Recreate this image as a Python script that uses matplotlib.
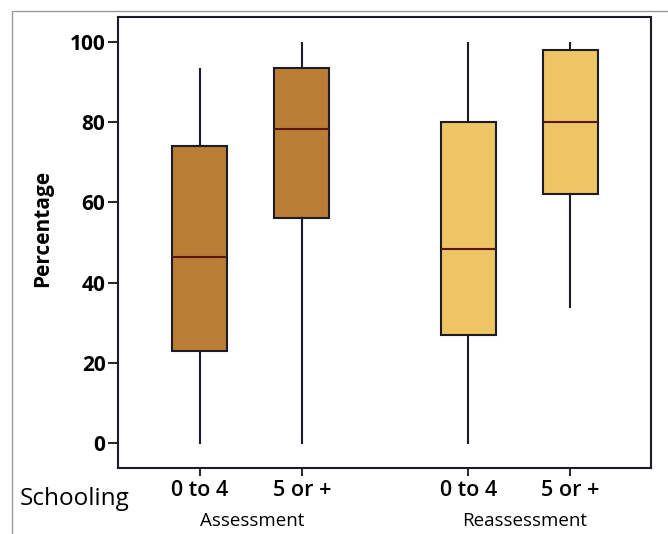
import matplotlib.pyplot as plt
from matplotlib.patches import Rectangle

# values (percent)
groups = ["0 to 4", "5 or +", "0 to 4", "5 or +"]
phases = ["Assessment", "Reassessment"]
whislo = [0, 0, 0, 34]
q1 = [23, 56, 27, 62]
med = [46.5, 78.3, 48.5, 80]
q3 = [74, 93.5, 80, 98]
whishi = [93.3, 99.7, 99.7, 99.7]
colors = ["#B97E34", "#B97E34", "#EDC562", "#EDC562"]
positions = [1, 2, 3.63, 4.63]

plt.rcParams['font.family'] = ['Open Sans', 'DejaVu Sans']

fig = plt.figure(figsize=(6.68, 5.34), dpi=100)
ax = fig.add_axes([118/668, 1-468/534, (651-118)/668, (468-17)/534])

stats = []
for i in range(len(groups)):
    stats.append(dict(whislo=whislo[i], q1=q1[i], med=med[i], q3=q3[i], whishi=whishi[i], label=groups[i]))

bp = ax.bxp(stats, positions=positions, widths=0.54, patch_artist=True, showfliers=False,
            showcaps=False,
            boxprops=dict(edgecolor="#1c1c28", linewidth=1.5),
            whiskerprops=dict(color="#1c1c28", linewidth=1.5),
            medianprops=dict(color="#5a1518", linewidth=1.5))
for patch, c in zip(bp['boxes'], colors):
    patch.set_facecolor(c)

ax.set_xlim(0.2, 5.42)
ax.set_ylim(-6.2, 106.2)
ax.set_yticks([0, 20, 40, 60, 80, 100])
ax.tick_params(axis='y', labelsize=15, length=7, width=1.2, pad=2)
ax.tick_params(axis='x', labelsize=15.5, length=6, width=1.2, pad=3)
for lab in ax.get_yticklabels():
    lab.set_fontweight('bold')
for lab in ax.get_xticklabels():
    lab.set_fontweight('semibold')
ax.set_ylabel("Percentage", fontsize=15, fontweight='bold')
ax.yaxis.set_label_coords(-0.122, 0.532)
for s in ax.spines.values():
    s.set_linewidth(1.5)
    s.set_color("#1c1c28")

fig.text(20/668, 1-505/534, "Schooling", fontsize=17.5, va='baseline', ha='left')
fig.text(252/668, 1-526/534, phases[0], fontsize=13.5, va='baseline', ha='center')
fig.text(525/668, 1-526/534, phases[1], fontsize=13.5, va='baseline', ha='center')

# thin gray frame round the figure
fig.patches.append(Rectangle((12/668, -0.02), 1.1, 1-11/534+0.02, transform=fig.transFigure,
                             fill=False, edgecolor="#9a9a9a", linewidth=1.0))

fig.savefig("out.png", dpi=100)
